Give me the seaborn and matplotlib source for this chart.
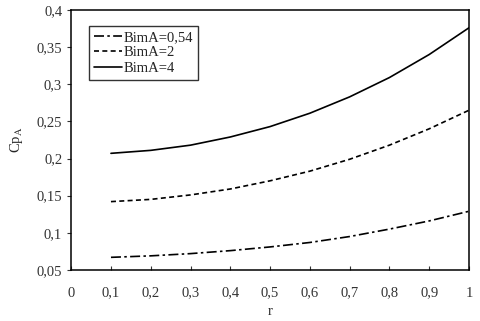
import pandas as pd
import matplotlib
matplotlib.use("Agg")
import matplotlib.pyplot as plt
import seaborn as sns

# Data
r = [0.1, 0.2, 0.3, 0.4, 0.5, 0.6, 0.7, 0.8, 0.9, 1.0]
cp_054 = [0.067, 0.069, 0.072, 0.076, 0.081, 0.087, 0.095, 0.105, 0.116, 0.129]
cp_2 = [0.142, 0.145, 0.151, 0.159, 0.170, 0.183, 0.199, 0.218, 0.240, 0.265]
cp_4 = [0.207, 0.211, 0.218, 0.229, 0.243, 0.261, 0.283, 0.309, 0.340, 0.376]
labels = ['BimA=0,54', 'BimA=2', 'BimA=4']

df = pd.DataFrame({
    'r': r * 3,
    'cp': cp_054 + cp_2 + cp_4,
    'case': [labels[0]] * len(r) + [labels[1]] * len(r) + [labels[2]] * len(r),
})

sns.set_style('ticks')
plt.rcParams['font.family'] = ['Liberation Serif', 'DejaVu Serif']
plt.rcParams['mathtext.fontset'] = 'stix'

fig = plt.figure(figsize=(4.81, 3.21), dpi=100)
ax = fig.add_axes([0.148, 0.159, 0.827, 0.81])

dashes = {labels[0]: (6, 2, 1.5, 2), labels[1]: (3, 2), labels[2]: ''}
sns.lineplot(data=df, x='r', y='cp', style='case', dashes=dashes,
             color='black', linewidth=1.2, ax=ax)

ax.set_xlim(0, 1)
ax.set_ylim(0.05, 0.4)
xt = [i / 10 for i in range(11)]
ax.set_xticks(xt)
ax.set_xticklabels(['0' if v == 0 else ('1' if v == 1 else f'{v:.1f}'.replace('.', ',')) for v in xt])
yt = [0.05 + 0.05 * i for i in range(8)]
ax.set_yticks(yt)
ax.set_yticklabels([f'{v:g}'.replace('.', ',') for v in [round(v, 2) for v in yt]])
ax.tick_params(axis='x', direction='in', length=3, labelsize=10.5, colors='#333333', pad=12)
ax.tick_params(axis='y', direction='out', length=3, labelsize=10.5, colors='#333333')
for s in ax.spines.values():
    s.set_visible(True)
    s.set_color('black')
    s.set_linewidth(1.1)

ax.set_xlabel('r', fontsize=10.5, labelpad=4)
ax.set_ylabel(r'Cp$_{\mathrm{A}}$', fontsize=10.5, labelpad=8)

leg = ax.legend(loc='upper left', bbox_to_anchor=(0.045, 0.94), fontsize=10.5,
                frameon=True, fancybox=False, handlelength=1.9,
                handletextpad=0.1, borderpad=0.35, labelspacing=0.15,
                borderaxespad=0)
leg.get_frame().set_edgecolor('black')
leg.get_frame().set_linewidth(1.0)
leg.set_title(None)

fig.savefig('out.png', dpi=100)
